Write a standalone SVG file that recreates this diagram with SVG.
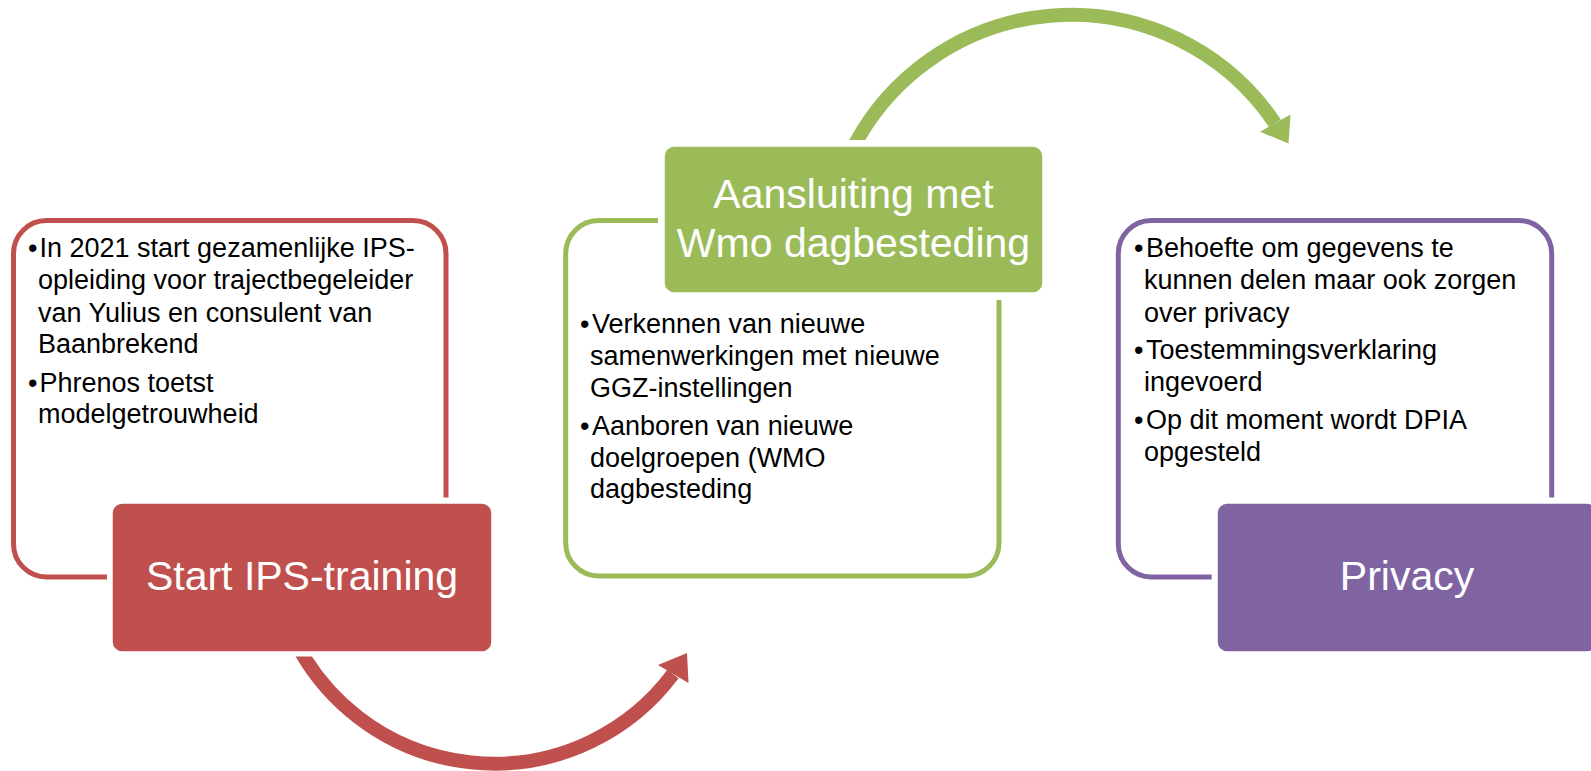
<svg xmlns="http://www.w3.org/2000/svg" width="1591" height="771" viewBox="0 0 1591 771">
<style>
.body{font-family:"Liberation Sans",Arial,sans-serif;font-size:27px;fill:#000}
.title{font-family:"Liberation Sans",Arial,sans-serif;font-size:41px;fill:#fff;text-anchor:middle}
.outline{fill:none;stroke-width:5}
.fillbox{stroke:#fff;stroke-width:1.5}
.red{stroke:#C0504D}
.green{stroke:#9BBB59}
.purple{stroke:#8064A2}
.arc{fill:none;stroke-width:14}
</style>
<defs>
<clipPath id="clipRed"><rect x="0" y="656.5" width="1591" height="120"/></clipPath>
<clipPath id="clipGreen"><rect x="0" y="0" width="1591" height="140"/></clipPath>
</defs>
<rect width="1591" height="771" fill="#fff"/>
<g id="connectors">
<path class="arc red" clip-path="url(#clipRed)" d="M 291.8 634 A 223 223 0 0 0 673 674"/>
<polygon fill="#C0504D" points="687,653 658,665 688.5,683"/>
<path class="arc green" clip-path="url(#clipGreen)" d="M 847.2 160 A 245.5 245.5 0 0 1 1275 123.3"/>
<polygon fill="#9BBB59" points="1288.5,143.5 1260,131.7 1290.5,114.5"/>
</g>
<g id="node-start-ips">
<path class="outline red" d="M 446 497.5 V 253.5 A 33 33 0 0 0 413 220.5 H 46.5 A 33 33 0 0 0 13.5 253.5 V 544 A 33 33 0 0 0 46.5 577 H 107"/>
<text class="body" x="28" y="256.7">•<tspan x="39.5">In 2021 start gezamenlijke IPS-</tspan></text>
<text class="body" x="38" y="289">opleiding voor trajectbegeleider</text>
<text class="body" x="38" y="321.7">van Yulius en consulent van</text>
<text class="body" x="38" y="353.3">Baanbrekend</text>
<text class="body" x="28" y="391.7">•<tspan x="39.5">Phrenos toetst</tspan></text>
<text class="body" x="38" y="423.3">modelgetrouwheid</text>
<rect class="fillbox" x="112" y="503" width="380" height="149" rx="10" fill="#C0504D"/>
<text class="title" x="302" y="590">Start IPS-training</text>
</g>
<g id="node-wmo">
<path class="outline green" d="M 658 220.5 H 598.7 A 33 33 0 0 0 565.7 253.5 V 543 A 33 33 0 0 0 598.7 576 H 966 A 33 33 0 0 0 999 543 V 300"/>
<text class="body" x="580" y="333.3">•<tspan x="592">Verkennen van nieuwe</tspan></text>
<text class="body" x="590" y="365">samenwerkingen met nieuwe</text>
<text class="body" x="590" y="396.7">GGZ-instellingen</text>
<text class="body" x="580" y="435">•<tspan x="592">Aanboren van nieuwe</tspan></text>
<text class="body" x="590" y="466.7">doelgroepen (WMO</text>
<text class="body" x="590" y="498.3">dagbesteding</text>
<rect class="fillbox" x="664" y="146" width="379" height="147" rx="10" fill="#9BBB59"/>
<text class="title" x="853.5" y="208">Aansluiting met</text>
<text class="title" x="853.5" y="256.7">Wmo dagbesteding</text>
</g>
<g id="node-privacy">
<path class="outline purple" d="M 1551.7 497.5 V 253.5 A 33 33 0 0 0 1518.7 220.5 H 1151.3 A 33 33 0 0 0 1118.3 253.5 V 544 A 33 33 0 0 0 1151.3 577 H 1211.7"/>
<text class="body" x="1134" y="256.7">•<tspan x="1146">Behoefte om gegevens te</tspan></text>
<text class="body" x="1144" y="289.3">kunnen delen maar ook zorgen</text>
<text class="body" x="1144" y="321.7">over privacy</text>
<text class="body" x="1134" y="359.3">•<tspan x="1146">Toestemmingsverklaring</tspan></text>
<text class="body" x="1144" y="391">ingevoerd</text>
<text class="body" x="1134" y="429">•<tspan x="1146">Op dit moment wordt DPIA</tspan></text>
<text class="body" x="1144" y="460.7">opgesteld</text>
<rect class="fillbox" x="1217" y="503" width="380" height="149" rx="10" fill="#8064A2"/>
<text class="title" x="1407" y="590">Privacy</text>
</g>
</svg>
